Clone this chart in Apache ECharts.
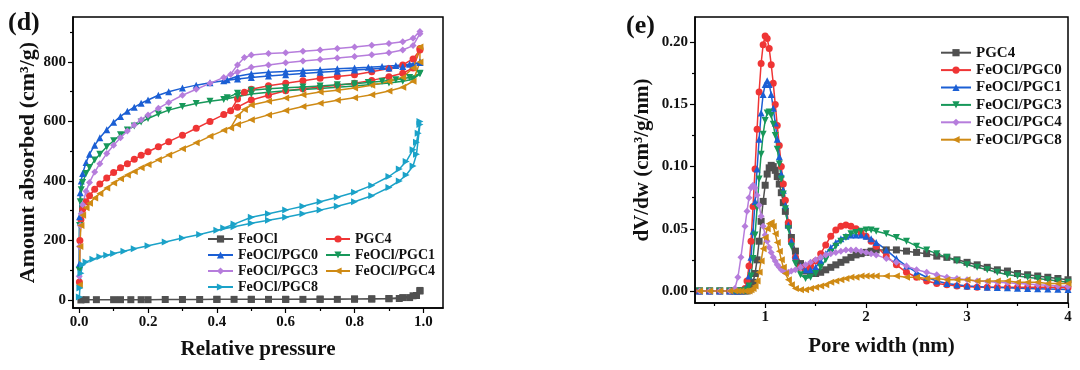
<!DOCTYPE html>
<html><head><meta charset="utf-8">
<script src="https://cdn.jsdelivr.net/npm/echarts@6/dist/echarts.min.js"></script>
<style>html,body{margin:0;padding:0;background:#fff}#c{width:1080px;height:370px}</style>
</head><body><div id="c"></div>
<script>
// ---------- (d) N2 isotherms: relative pressure / amount absorbed ----------
const pFeOClAds = [0.005, 0.02, 0.05, 0.1, 0.12, 0.15, 0.18, 0.2, 0.25, 0.3, 0.35, 0.4, 0.45, 0.5, 0.55, 0.6, 0.65, 0.7, 0.75, 0.8, 0.85, 0.9, 0.93, 0.96, 0.98, 0.99];
const vFeOClAds = [0, 1, 1, 1, 1, 1, 1, 1, 1.5, 1.5, 1.5, 2, 2, 2, 2, 2, 2, 2, 2, 3, 3, 4, 5, 8, 15, 30];
const pFeOClDes = [0.99, 0.97, 0.94, 0.9, 0.85, 0.8, 0.7, 0.6, 0.5, 0.4];
const vFeOClDes = [32, 14, 8, 5, 4, 3, 3, 2, 2, 2];

const pRedAds = [0.0005, 0.002, 0.005, 0.01, 0.02, 0.03, 0.045, 0.06, 0.08, 0.1, 0.12, 0.14, 0.16, 0.18, 0.2, 0.23, 0.26, 0.3, 0.34, 0.38, 0.42, 0.46, 0.5, 0.55, 0.6, 0.65, 0.7, 0.75, 0.8, 0.85, 0.9, 0.94, 0.97, 0.99];
const vPGC4Ads = [60, 200, 270, 305, 330, 350, 372, 390, 410, 428, 444, 458, 473, 486, 498, 515, 532, 554, 577, 600, 623, 648, 672, 688, 703, 710, 716, 722, 728, 738, 750, 762, 780, 840];
const pPGC4Des = [0.99, 0.97, 0.94, 0.9, 0.85, 0.8, 0.75, 0.7, 0.65, 0.6, 0.55, 0.5, 0.48, 0.46, 0.44];
const vPGC4Des = [845, 810, 790, 778, 767, 757, 751, 745, 737, 728, 720, 708, 698, 675, 636];

const vFP4Ads = [50, 180, 250, 285, 310, 325, 343, 358, 376, 393, 407, 420, 432, 444, 455, 471, 487, 508, 528, 550, 570, 590, 606, 622, 637, 650, 661, 671, 680, 690, 702, 715, 735, 800];
const pFP4Des = [0.99, 0.97, 0.94, 0.9, 0.85, 0.8, 0.75, 0.7, 0.65, 0.6, 0.55, 0.5, 0.48, 0.46, 0.44];
const vFP4Des = [850, 780, 748, 734, 722, 712, 705, 699, 690, 679, 668, 655, 640, 618, 578];

const pAds = [0.0002, 0.001, 0.003, 0.006, 0.01, 0.02, 0.03, 0.045, 0.06, 0.08, 0.1, 0.12, 0.14, 0.16, 0.18, 0.2, 0.23, 0.26, 0.3, 0.34, 0.38, 0.42, 0.46, 0.5, 0.55, 0.6, 0.65, 0.7, 0.75, 0.8, 0.85, 0.9, 0.94, 0.97, 0.99];
const vFP0Ads = [120, 280, 360, 400, 425, 462, 490, 520, 545, 572, 597, 617, 634, 648, 661, 672, 688, 700, 712, 722, 730, 737, 743, 748, 753, 757, 761, 765, 769, 773, 776, 780, 785, 790, 798];
const pFP0Des = [0.99, 0.96, 0.92, 0.88, 0.84, 0.8, 0.75, 0.7, 0.65, 0.6, 0.55, 0.5, 0.46, 0.43];
const vFP0Des = [800, 792, 788, 785, 782, 780, 777, 774, 771, 768, 765, 760, 752, 740];

const vFP1Ads = [100, 250, 330, 370, 395, 425, 445, 470, 490, 515, 535, 555, 571, 585, 598, 610, 625, 638, 650, 660, 668, 674, 684, 692, 698, 703, 707, 711, 715, 719, 724, 729, 735, 742, 760];
const pFP1Des = [0.99, 0.96, 0.92, 0.88, 0.84, 0.8, 0.75, 0.7, 0.65, 0.6, 0.55, 0.5, 0.46, 0.43];
const vFP1Des = [762, 748, 740, 735, 731, 727, 723, 719, 716, 713, 710, 705, 695, 680];

const vFP3Ads = [80, 180, 250, 290, 320, 365, 395, 430, 458, 492, 520, 545, 568, 588, 606, 622, 644, 664, 688, 708, 728, 748, 766, 782, 790, 797, 803, 808, 813, 818, 824, 831, 840, 855, 895];
const pFP3Des = [0.99, 0.97, 0.94, 0.9, 0.85, 0.8, 0.75, 0.7, 0.65, 0.6, 0.55, 0.5, 0.48, 0.46, 0.44];
const vFP3Des = [902, 880, 868, 862, 856, 850, 845, 840, 836, 831, 828, 823, 815, 790, 758];

const pFP8Ads = [0.0005, 0.002, 0.005, 0.01, 0.02, 0.04, 0.06, 0.08, 0.1, 0.13, 0.16, 0.2, 0.25, 0.3, 0.35, 0.4, 0.45, 0.5, 0.55, 0.6, 0.65, 0.7, 0.75, 0.8, 0.85, 0.9, 0.93, 0.95, 0.97, 0.98, 0.99];
const vFP8Ads = [10, 40, 90, 118, 128, 137, 145, 150, 156, 164, 172, 182, 195, 208, 220, 234, 246, 258, 268, 278, 290, 302, 315, 330, 350, 378, 400, 420, 450, 490, 590];
const pFP8Des = [0.99, 0.985, 0.98, 0.97, 0.95, 0.93, 0.9, 0.85, 0.8, 0.75, 0.7, 0.65, 0.6, 0.55, 0.5, 0.45, 0.42];
const vFP8Des = [600, 560, 530, 505, 465, 440, 415, 385, 362, 345, 330, 315, 302, 290, 278, 255, 242];

// ---------- (e) pore size distribution ----------
const poreWidth = [0.35,0.45,0.55,0.65,0.7,0.73,0.76,0.8,0.82,0.84,0.86,0.88,0.9,0.92,0.94,0.96,0.98,1.0,1.02,1.04,1.06,1.08,1.1,1.12,1.14,1.16,1.18,1.2,1.23,1.26,1.3,1.35,1.4,1.45,1.5,1.55,1.6,1.65,1.7,1.75,1.8,1.85,1.9,1.95,2.0,2.05,2.1,2.2,2.3,2.4,2.5,2.6,2.7,2.8,2.9,3.0,3.1,3.2,3.3,3.4,3.5,3.6,3.7,3.8,3.9,4.0];
const psdPGC4 = [0,0,0,0,0,0,0, 0,0,0.001,0.003,0.007, 0.014,0.025,0.04,0.056,0.072, 0.085,0.094,0.099,0.101,0.100, 0.097,0.092,0.086,0.079,0.071, 0.064,0.053,0.043, 0.032,0.022,0.016,0.014, 0.014,0.015,0.017,0.019, 0.021,0.023,0.025,0.027, 0.029,0.030,0.031,0.032, 0.033,0.033,0.033,0.032, 0.031,0.030,0.028,0.027, 0.025,0.023,0.021,0.019, 0.017,0.016,0.014,0.013, 0.012,0.011,0.010,0.009];
const psdFP0 = [0,0,0,0,0,0,0, 0.002,0.008,0.02,0.04,0.068, 0.098,0.13,0.16,0.183,0.198, 0.205,0.203,0.195,0.182,0.167, 0.15,0.133,0.117,0.10,0.086, 0.073,0.055,0.04, 0.027,0.019,0.018,0.02, 0.024,0.030,0.037,0.044, 0.049,0.052,0.053,0.052, 0.050,0.047,0.044,0.040, 0.036,0.028,0.021,0.015, 0.011,0.008,0.006,0.005, 0.004,0.0035,0.003,0.003, 0.003,0.003,0.003,0.003, 0.003,0.003,0.0028,0.0025];
const psdFP1 = [0,0,0,0,0,0,0, 0.001,0.004,0.012,0.027,0.048, 0.072,0.098,0.122,0.143,0.158, 0.166,0.169,0.166,0.158,0.147, 0.135,0.122,0.108,0.094,0.081, 0.069,0.053,0.04, 0.028,0.02,0.017,0.017, 0.019,0.024,0.030,0.035, 0.039,0.042,0.044,0.045, 0.045,0.045,0.044,0.042, 0.039,0.033,0.026,0.020, 0.015,0.011,0.008,0.006, 0.005,0.004,0.0035,0.003, 0.0028,0.0025,0.0022,0.002, 0.0018,0.0016,0.0014,0.0012];
const psdFP3 = [0,0,0,0,0,0,0, 0,0.001,0.004,0.012,0.026, 0.045,0.067,0.09,0.11,0.126, 0.137,0.143,0.144,0.141,0.134, 0.125,0.114,0.102,0.09,0.078, 0.066,0.05,0.036, 0.022,0.013,0.010,0.011, 0.014,0.019,0.025,0.031, 0.036,0.040,0.043,0.046, 0.047,0.048,0.049,0.049, 0.048,0.046,0.043,0.040, 0.036,0.033,0.030,0.027, 0.024,0.021,0.019,0.017, 0.015,0.013,0.012,0.011, 0.010,0.009,0.008,0.007];
const psdFP4 = [0,0,0,0,0.002,0.011,0.027, 0.052,0.064,0.075,0.083,0.085, 0.083,0.077,0.069,0.06,0.052, 0.045,0.04,0.035,0.031,0.027, 0.024,0.021,0.019,0.017,0.016, 0.015,0.015,0.016, 0.017,0.019,0.021,0.023, 0.025,0.027,0.029,0.030, 0.031,0.032,0.033,0.033, 0.033,0.032,0.031,0.030, 0.029,0.026,0.023,0.020, 0.017,0.015,0.013,0.011, 0.010,0.009,0.008,0.0075, 0.007,0.0065,0.006,0.0055, 0.005,0.0045,0.004,0.0035];
const psdFP8 = [0,0,0,0,0,0,0, 0,0,0,0.001,0.002, 0.004,0.008,0.015,0.024,0.034, 0.043,0.05,0.054,0.055,0.052, 0.046,0.039,0.032,0.025,0.019, 0.014,0.009,0.005, 0.002,0.001,0.001,0.002, 0.003,0.004,0.005,0.007, 0.008,0.009,0.010,0.011, 0.011,0.012,0.012,0.012, 0.012,0.012,0.012,0.011, 0.011,0.010,0.010,0.009, 0.009,0.009,0.008,0.008, 0.008,0.008,0.007,0.007, 0.007,0.006,0.006,0.006];

// tick values
const dXTicks = [0, 0.2, 0.4, 0.6, 0.8, 1.0];
const dXMinor = [0.1, 0.3, 0.5, 0.7, 0.9];
const dYTicks = [0, 200, 400, 600, 800];
const dYMinor = [100, 300, 500, 700, 900];
const eXTicks = [1, 2, 3, 4];
const eXMinor = [0.5, 1.5, 2.5, 3.5];
const eYTicks = [0, 0.05, 0.1, 0.15, 0.2];
const eYMinor = [0.025, 0.075, 0.125, 0.175];

// ---------- chart ----------
const FONT = '"Liberation Serif","Times New Roman",serif';
const txt = (s) => ({fontFamily: FONT, fontWeight: 'bold', fontSize: s, color: '#111'});
const pairs = (p, v) => p.map((x, i) => [x, v[i]]);

const leftDefs = [
  {name: 'FeOCl', color: '#505050', symbol: 'rect', rot: 0, data: pairs(pFeOClAds, vFeOClAds).concat(pairs(pFeOClDes, vFeOClDes))},
  {name: 'PGC4', color: '#ef3535', symbol: 'circle', rot: 0, data: pairs(pRedAds, vPGC4Ads).concat(pairs(pPGC4Des, vPGC4Des))},
  {name: 'FeOCl/PGC0', color: '#1b5fd4', symbol: 'triangle', rot: 0, data: pairs(pAds, vFP0Ads).concat(pairs(pFP0Des, vFP0Des))},
  {name: 'FeOCl/PGC1', color: '#17985a', symbol: 'triangle', rot: 180, data: pairs(pAds, vFP1Ads).concat(pairs(pFP1Des, vFP1Des))},
  {name: 'FeOCl/PGC3', color: '#b67ddc', symbol: 'diamond', rot: 0, data: pairs(pAds, vFP3Ads).concat(pairs(pFP3Des, vFP3Des))},
  {name: 'FeOCl/PGC4', color: '#cf8a14', symbol: 'triangle', rot: 90, data: pairs(pRedAds, vFP4Ads).concat(pairs(pFP4Des, vFP4Des))},
  {name: 'FeOCl/PGC8', color: '#1ba2c8', symbol: 'triangle', rot: -90, data: pairs(pFP8Ads, vFP8Ads).concat(pairs(pFP8Des, vFP8Des))}
];
const rightDefs = [
  {name: 'e:PGC4', color: '#505050', symbol: 'rect', rot: 0, vals: psdPGC4},
  {name: 'e:FeOCl/PGC0', color: '#ef3535', symbol: 'circle', rot: 0, vals: psdFP0},
  {name: 'e:FeOCl/PGC1', color: '#1b5fd4', symbol: 'triangle', rot: 0, vals: psdFP1},
  {name: 'e:FeOCl/PGC3', color: '#17985a', symbol: 'triangle', rot: 180, vals: psdFP3},
  {name: 'e:FeOCl/PGC4', color: '#b67ddc', symbol: 'diamond', rot: 0, vals: psdFP4},
  {name: 'e:FeOCl/PGC8', color: '#cf8a14', symbol: 'triangle', rot: 90, vals: psdFP8}
];

const series = [];
leftDefs.forEach(d => series.push({
  name: d.name, type: 'line', xAxisIndex: 0, yAxisIndex: 0, data: d.data,
  symbol: d.symbol, symbolRotate: d.rot, symbolSize: 7, showSymbol: true,
  itemStyle: {color: d.color}, lineStyle: {color: d.color, width: 1.5}
}));
rightDefs.forEach(d => series.push({
  name: d.name, type: 'line', xAxisIndex: 2, yAxisIndex: 2, data: pairs(poreWidth, d.vals),
  symbol: d.symbol, symbolRotate: d.rot, symbolSize: 7, showSymbol: true,
  itemStyle: {color: d.color}, lineStyle: {color: d.color, width: 1.5}
}));

function majorAxis(grid, pos, min, max, ticks, fmt, name, gap, nameSize) {
  return {
    gridIndex: grid, type: 'value', position: pos, min: min, max: max,
    axisLine: {show: true, onZero: false, lineStyle: {color: '#000', width: 1.5}},
    axisTick: {show: true, customValues: ticks, length: 5, inside: false, lineStyle: {color: '#000', width: 1.2}},
    axisLabel: Object.assign({show: true, customValues: ticks, formatter: fmt, margin: 7}, txt(15)),
    splitLine: {show: false},
    name: name, nameLocation: 'middle', nameGap: gap, nameTextStyle: txt(nameSize)
  };
}
function minorAxis(grid, pos, min, max, ticks) {
  return {
    gridIndex: grid, type: 'value', position: pos, min: min, max: max,
    axisLine: {show: false, onZero: false},
    axisTick: {show: true, customValues: ticks, length: 3, inside: false, lineStyle: {color: '#000', width: 1.2}},
    axisLabel: {show: false}, splitLine: {show: false}
  };
}

const legendBase = {orient: 'vertical', itemGap: 0, padding: 0, selectedMode: false};

const option = {
  animation: false,
  backgroundColor: '#fff',
  title: [
    {text: '(d)', left: 8, top: 10, padding: 0, textStyle: txt(26)},
    {text: '(e)', left: 626, top: 13, padding: 0, textStyle: txt(26)}
  ],
  grid: [
    {left: 73, top: 17, width: 370, height: 291, show: true, borderColor: '#000', borderWidth: 1.5, backgroundColor: 'transparent'},
    {left: 695, top: 17, width: 373, height: 286, show: true, borderColor: '#000', borderWidth: 1.5, backgroundColor: 'transparent'}
  ],
  xAxis: [
    majorAxis(0, 'bottom', -0.018, 1.057, dXTicks, v => v.toFixed(1), 'Relative pressure', 31, 21),
    minorAxis(0, 'bottom', -0.018, 1.057, dXMinor),
    majorAxis(1, 'bottom', 0.305, 4.0, eXTicks, v => String(v), 'Pore width (nm)', 33, 21),
    minorAxis(1, 'bottom', 0.305, 4.0, eXMinor)
  ],
  yAxis: [
    majorAxis(0, 'left', -27, 951, dYTicks, v => String(v), 'Amount absorbed (cm³/g)', 33, 22),
    minorAxis(0, 'left', -27, 951, dYMinor),
    majorAxis(1, 'left', -0.0097, 0.2203, eYTicks, v => v.toFixed(2), 'dV/dw (cm³/g/nm)', 42, 21),
    minorAxis(1, 'left', -0.0097, 0.2203, eYMinor)
  ],
  legend: [
    Object.assign({}, legendBase, {left: 207, top: 231, itemWidth: 25, itemHeight: 9,
      data: ['FeOCl', 'FeOCl/PGC0', 'FeOCl/PGC3', 'FeOCl/PGC8'],
      textStyle: Object.assign({lineHeight: 16}, txt(14))}),
    Object.assign({}, legendBase, {left: 325, top: 231, itemWidth: 24, itemHeight: 9,
      data: ['PGC4', 'FeOCl/PGC1', 'FeOCl/PGC4'],
      textStyle: Object.assign({lineHeight: 16}, txt(14))}),
    Object.assign({}, legendBase, {left: 940, top: 44, itemWidth: 30, itemHeight: 9,
      data: rightDefs.map(d => d.name),
      formatter: n => n.replace(/^e:/, ''),
      textStyle: Object.assign({lineHeight: 17.4}, txt(15))})
  ],
  series: series
};

const chart = echarts.init(document.getElementById('c'), null, {renderer: 'canvas'});
chart.setOption(option);
</script></body></html>
